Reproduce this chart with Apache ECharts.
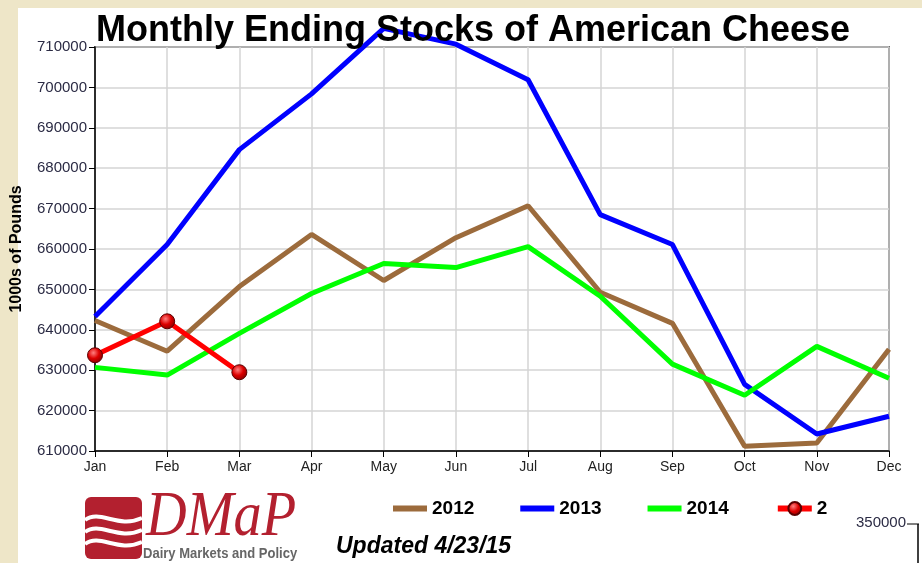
<!DOCTYPE html>
<html>
<head>
<meta charset="utf-8">
<script src="https://cdn.jsdelivr.net/npm/echarts@6/dist/echarts.min.js"></script>
<style>
  html, body { margin: 0; padding: 0; background: #eee6c8; }
  #paper { position: absolute; left: 18px; top: 8px; width: 904px; height: 555px; background: #fff; }
  #chart { position: absolute; left: 0; top: 0; width: 922px; height: 563px; }
</style>
</head>
<body>
<div id="paper"></div>
<div id="chart"></div>
<script>
// values (1000s of pounds)
var months = ['Jan', 'Feb', 'Mar', 'Apr', 'May', 'Jun', 'Jul', 'Aug', 'Sep', 'Oct', 'Nov', 'Dec'];
var stocks2012 = [642300, 634700, 650700, 663600, 652200, 662800, 670700, 649300, 641600, 611200, 612000, 635200];
var stocks2013 = [643300, 661100, 684600, 698400, 714600, 710700, 701900, 668500, 661100, 626500, 614200, 618600];
var stocks2014 = [630700, 628800, 639100, 649000, 656400, 655400, 660600, 648300, 631500, 623800, 635900, 628000];
var stocks2015 = [633700, 642100, 629500];
var seriesNames = ['2012', '2013', '2014', '2'];

(function () {
  var myChart = echarts.init(document.getElementById('chart'));
  var font = 'Liberation Sans, Arial, sans-serif';
  var barIcon = 'path://M0,0h34v6h-34z';

  var option = {
    backgroundColor: 'transparent',
    animation: false,
    title: {
      text: 'Monthly Ending Stocks of American Cheese',
      left: 91,
      top: 8,
      textStyle: { fontFamily: font, fontSize: 36, fontWeight: 'bold', color: '#000' }
    },
    legend: {
      data: [
        { name: seriesNames[0], icon: barIcon },
        { name: seriesNames[1], icon: barIcon },
        { name: seriesNames[2], icon: barIcon },
        { name: seriesNames[3], lineStyle: { width: 6 } }
      ],
      left: 388,
      top: 494,
      itemWidth: 34,
      itemHeight: 16,
      itemGap: 46,
      textStyle: { fontFamily: font, fontSize: 19, fontWeight: 'bold', color: '#000' }
    },
    grid: {
      left: 95,
      right: 33,
      top: 47,
      bottom: 112,
      outerBoundsMode: 'none',
      show: true,
      borderColor: '#000',
      borderWidth: 1.5,
      backgroundColor: 'transparent'
    },
    xAxis: {
      type: 'category',
      data: months,
      boundaryGap: false,
      axisLine: { lineStyle: { color: '#000', width: 1.5 } },
      axisTick: { show: true, length: 6, lineStyle: { color: '#000' } },
      axisLabel: { fontFamily: font, fontSize: 14, color: '#222', margin: 9 },
      splitLine: { show: true, lineStyle: { color: '#d4d4d4', width: 1.5 } }
    },
    yAxis: {
      type: 'value',
      min: 610000,
      max: 710000,
      interval: 10000,
      name: '1000s of Pounds',
      nameLocation: 'middle',
      nameGap: 70,
      nameTextStyle: { fontFamily: font, fontSize: 16, fontWeight: 'bold', color: '#000' },
      axisLine: { show: true, lineStyle: { color: '#000', width: 1.5 } },
      axisTick: { show: true, length: 6, lineStyle: { color: '#000' } },
      axisLabel: {
        fontFamily: font, fontSize: 15, color: '#2b2b44', margin: 8,
        formatter: function (v) { return String(v); }
      },
      splitLine: { show: true, lineStyle: { color: '#d4d4d4', width: 1.5 } }
    },
    series: [
      {
        name: '2012', type: 'line', data: stocks2012, symbol: 'none', clip: false,
        lineStyle: { color: '#9c6b3c', width: 5 }, itemStyle: { color: '#9c6b3c' }
      },
      {
        name: '2013', type: 'line', data: stocks2013, symbol: 'none', clip: false,
        lineStyle: { color: '#0000ff', width: 5 }, itemStyle: { color: '#0000ff' }
      },
      {
        name: '2014', type: 'line', data: stocks2014, symbol: 'none', clip: false,
        lineStyle: { color: '#00ff00', width: 5 }, itemStyle: { color: '#00ff00' }
      },
      {
        name: '2', type: 'line', data: stocks2015, clip: false,
        symbol: 'circle', symbolSize: 15, showAllSymbol: true,
        lineStyle: { color: '#ff0000', width: 5 },
        itemStyle: {
          color: new echarts.graphic.RadialGradient(0.4, 0.35, 0.7, [
            { offset: 0, color: '#ff8080' },
            { offset: 0.5, color: '#dd0000' },
            { offset: 1, color: '#800000' }
          ]),
          borderColor: '#5a0000',
          borderWidth: 1
        }
      }
    ],
    graphic: [
      // DMaP logo box
      { type: 'rect', left: 85, top: 497, shape: { width: 57, height: 62, r: 6 }, style: { fill: '#b3202f' } },
      { type: 'bezierCurve', shape: { x1: 85, y1: 520, cpx1: 100, cpy1: 509, cpx2: 118, cpy2: 529, x2: 142, y2: 518 }, style: { stroke: '#fff', lineWidth: 4, fill: null } },
      { type: 'bezierCurve', shape: { x1: 85, y1: 532, cpx1: 100, cpy1: 521, cpx2: 118, cpy2: 541, x2: 142, y2: 530 }, style: { stroke: '#fff', lineWidth: 4, fill: null } },
      { type: 'bezierCurve', shape: { x1: 85, y1: 544, cpx1: 100, cpy1: 533, cpx2: 118, cpy2: 553, x2: 142, y2: 542 }, style: { stroke: '#fff', lineWidth: 4, fill: null } },
      { type: 'text', x: 146, y: 486, scaleX: 0.88, style: { text: 'DMaP', fill: '#b3202f', font: 'italic 64px "Liberation Serif", "DejaVu Serif", serif' } },
      { type: 'text', x: 143, y: 547, scaleX: 0.93, style: { text: 'Dairy Markets and Policy', fill: '#666', font: 'bold 14px "Liberation Sans", Arial, sans-serif' } },
      // update note
      { type: 'text', left: 336, top: 535, style: { text: 'Updated 4/23/15', fill: '#000', font: 'italic bold 23px "Liberation Sans", Arial, sans-serif' } },
      // edge of the neighbouring chart
      { type: 'text', right: 16, top: 515, style: { text: '350000', fill: '#2b2b44', font: '15px "Liberation Sans", Arial, sans-serif' } },
      { type: 'line', shape: { x1: 907, y1: 524, x2: 919, y2: 524 }, style: { stroke: '#000', lineWidth: 1 } },
      { type: 'line', shape: { x1: 918, y1: 524, x2: 918, y2: 563 }, style: { stroke: '#000', lineWidth: 1.5 } }
    ]
  };

  option && myChart.setOption(option);
})();
</script>
</body>
</html>
